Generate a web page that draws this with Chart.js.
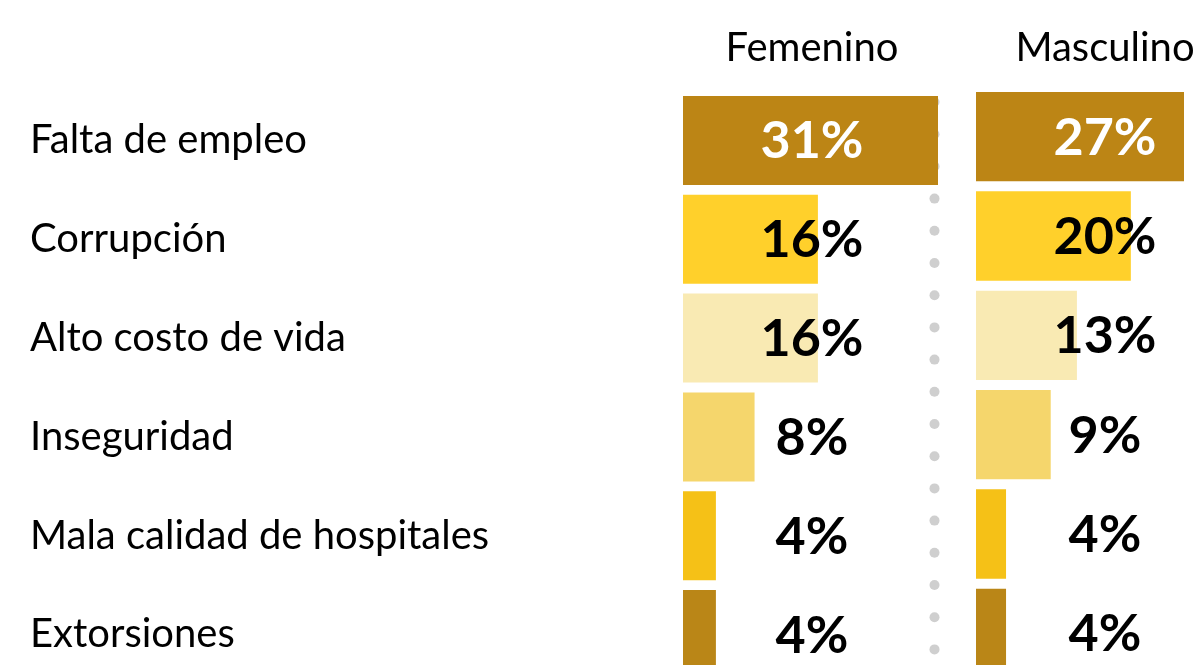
<!DOCTYPE html>
<html>
<head>
<meta charset="utf-8">
<script src="https://cdn.jsdelivr.net/npm/chart.js@4/dist/chart.umd.min.js"></script>
<style>
  html, body { margin: 0; padding: 0; background: #ffffff; overflow: hidden; }
  #wrap { position: relative; width: 1200px; height: 665px; overflow: hidden; background: #ffffff; }
  #wrap canvas { position: absolute; left: 0; top: 0; }
</style>
</head>
<body>
<div id="wrap">
  <canvas id="fem" width="1200" height="709"></canvas>
  <canvas id="mas" width="1200" height="700"></canvas>
</div>
<script>
// ---- Data ----
const categories = ['Falta de empleo', 'Corrupción', 'Alto costo de vida', 'Inseguridad', 'Mala calidad de hospitales', 'Extorsiones'];
const panelTitles = ['Femenino', 'Masculino'];
const femValues = [31, 16.4, 16.4, 8.7, 4.0, 4.0];
const femLabels = ['31%', '16%', '16%', '8%', '4%', '4%'];
const masValues = [27, 20.1, 13.1, 9.7, 3.9, 3.9];
const masLabels = ['27%', '20%', '13%', '9%', '4%', '4%'];
const barColors = ['#BC8515', '#FFD02B', '#F9EAB3', '#F5D66C', '#F5C117', '#BA8617'];
const labelColors = ['#ffffff', '#000000', '#000000', '#000000', '#000000', '#000000'];

const FONT = 'Lato, "Open Sans", sans-serif';

function panelPlugin(title, labels, withDots) {
  return {
    id: 'panel_' + title,
    beforeDatasetsDraw(chart) {
      if (!withDots) return;
      const ctx = chart.ctx;
      ctx.save();
      ctx.fillStyle = '#cfcfcf';
      for (let y = 102; y < 700; y += 32.2) {
        ctx.beginPath();
        ctx.arc(934.5, y, 5, 0, Math.PI * 2);
        ctx.fill();
      }
      ctx.restore();
    },
    afterDatasetsDraw(chart) {
      const ctx = chart.ctx;
      const area = chart.chartArea;
      const cx = area.left + 129;
      ctx.save();
      ctx.textAlign = 'center';
      ctx.textBaseline = 'alphabetic';
      ctx.fillStyle = '#000000';
      ctx.font = '40px ' + FONT;
      ctx.fillText(title, cx, 61);
      ctx.font = 'bold 52px ' + FONT;
      const yScale = chart.scales.y;
      labels.forEach((t, i) => {
        const y = yScale.getPixelForValue(i);
        ctx.fillStyle = labelColors[i];
        ctx.fillText(t, cx, y + 18);
      });
      ctx.restore();
    }
  };
}

new Chart(document.getElementById('fem'), {
  type: 'bar',
  data: {
    labels: categories,
    datasets: [{
      data: femValues,
      backgroundColor: barColors,
      borderWidth: 0,
      barPercentage: 0.9,
      categoryPercentage: 1.0
    }]
  },
  options: {
    indexAxis: 'y',
    responsive: false,
    animation: false,
    events: [],
    layout: { padding: { left: 30, right: 262, top: 91, bottom: 25 } },
    scales: {
      x: { display: false, min: 0, max: 31 },
      y: {
        grid: { display: false },
        border: { display: false },
        ticks: { color: '#000000', font: { family: FONT, size: 40 }, crossAlign: 'far', padding: 0 },
        afterFit(scale) { scale.width = 653; }
      }
    },
    plugins: { legend: { display: false }, tooltip: { enabled: false }, title: { display: false } }
  },
  plugins: [panelPlugin(panelTitles[0], femLabels, true)]
});

new Chart(document.getElementById('mas'), {
  type: 'bar',
  data: {
    labels: categories,
    datasets: [{
      data: masValues,
      backgroundColor: barColors,
      borderWidth: 0,
      barPercentage: 0.9,
      categoryPercentage: 1.0
    }]
  },
  options: {
    indexAxis: 'y',
    responsive: false,
    animation: false,
    events: [],
    layout: { padding: { left: 976, right: 16, top: 87, bottom: 17 } },
    scales: {
      x: { display: false, min: 0, max: 27 },
      y: { display: false }
    },
    plugins: { legend: { display: false }, tooltip: { enabled: false }, title: { display: false } }
  },
  plugins: [panelPlugin(panelTitles[1], masLabels, false)]
});
</script>
</body>
</html>
